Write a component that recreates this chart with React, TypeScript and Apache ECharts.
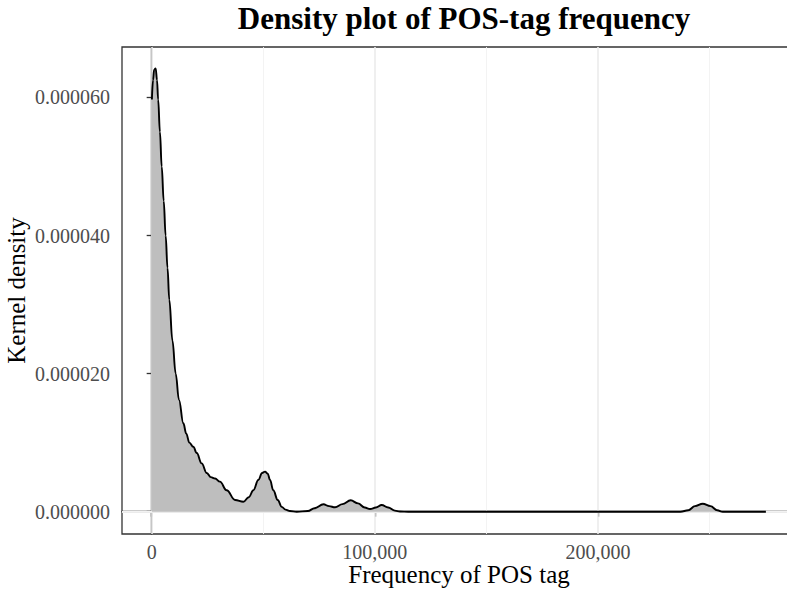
import React, { useEffect, useRef } from "react";
import * as echarts from "echarts";

const TITLE = "Density plot of POS-tag frequency";
const X_NAME = "Frequency of POS tag";
const Y_NAME = "Kernel density";

const xTickValues = [0, 100000, 200000];
const xMinorValues = [50000, 150000, 250000];
const yTickValues = [0, 0.00002, 0.00004, 0.00006];
const yMinorValues = [0.00001, 0.00003, 0.00005];

const frequency = [
  100, 600, 1100, 1800, 2400, 2900, 3700, 4500, 5400, 6260, 7100, 7900, 9300,
  10760, 12240, 14200, 15500, 16900, 18650, 20200, 22400, 24700, 26500, 28400,
  30600, 33600, 37400, 41100, 43500, 45600, 47800, 49500, 50800, 52000, 53050,
  54500, 56500, 58300, 60000, 62000, 65000, 70000, 73000, 77000, 79500, 82200,
  85500, 89200, 92500, 95500, 97900, 100500, 103100, 106000, 109000, 111300,
  115000, 237000, 240500, 243500, 247000, 250500, 253500, 256000, 275300,
];

const density = [
  59.7e-6, 62.5e-6, 64.0e-6, 64.2e-6, 62.5e-6, 59.7e-6, 55.0e-6, 50.0e-6,
  45.0e-6, 40.0e-6, 35.3e-6, 30.7e-6, 24.8e-6, 20.0e-6, 16.2e-6, 12.8e-6,
  11.3e-6, 10.0e-6, 9.4e-6, 8.5e-6, 7.0e-6, 5.6e-6, 5.0e-6, 4.8e-6, 4.35e-6,
  3.1e-6, 1.7e-6, 1.45e-6, 2.1e-6, 3.1e-6, 4.6e-6, 5.6e-6, 5.8e-6, 5.5e-6,
  4.6e-6, 3.1e-6, 1.7e-6, 0.7e-6, 0.3e-6, 0.1e-6, 0, 0.1e-6, 0.5e-6, 1.07e-6,
  0.8e-6, 0.64e-6, 1.1e-6, 1.65e-6, 1.2e-6, 0.6e-6, 0.39e-6, 0.6e-6, 0.97e-6,
  0.6e-6, 0.15e-6, 0.02e-6, 0, 0, 0.2e-6, 0.8e-6, 1.16e-6, 0.8e-6, 0.2e-6, 0,
  0,
];

const FONT = "'Liberation Serif', 'Times New Roman', serif";

export default function App() {
  const ref = useRef<HTMLDivElement>(null);

  useEffect(() => {
    if (!ref.current) return;
    const chart = echarts.init(ref.current, null, { renderer: "svg" });
    const points = frequency.map((f, i) => [f, density[i]]);

    const major = { color: "#EBEBEB", width: 1.6, type: "solid" };
    const minor = { color: "#F2F2F2", width: 0.9, type: "solid" };
    const gridMarks = [
      ...xTickValues.map((v) => ({ xAxis: v, lineStyle: major })),
      ...xMinorValues.map((v) => ({ xAxis: v, lineStyle: minor })),
      ...yTickValues.map((v) => ({ yAxis: v, lineStyle: major })),
      ...yMinorValues.map((v) => ({ yAxis: v, lineStyle: minor })),
    ];

    chart.setOption({
      animation: false,
      backgroundColor: "#ffffff",
      title: {
        text: TITLE,
        left: 459,
        top: -2,
        textAlign: "center",
        textStyle: {
          fontFamily: FONT,
          fontWeight: "bold",
          fontSize: 31,
          color: "#000000",
        },
      },
      grid: {
        left: 122,
        top: 47,
        right: -9,
        bottom: 60,
        containLabel: false,
        outerBoundsMode: "none",
        show: true,
        borderColor: "#333333",
        borderWidth: 1.3,
        backgroundColor: "transparent",
      },
      xAxis: {
        type: "value",
        min: -13300,
        max: 288800,
        name: X_NAME,
        nameLocation: "middle",
        nameGap: 28,
        nameMoveOverlap: false,
        nameTextStyle: { fontFamily: FONT, fontSize: 25, color: "#000000" },
        axisLine: { show: true, lineStyle: { color: "#333333", width: 1.3 } },
        axisTick: {
          show: true,
          customValues: xTickValues,
          length: 5,
          lineStyle: { color: "#333333", width: 1.3 },
        },
        axisLabel: {
          customValues: xTickValues,
          margin: 8,
          fontFamily: FONT,
          fontSize: 20,
          color: "#4D4D4D",
          formatter: (v: number) => v.toLocaleString("en-US"),
        },
        splitLine: { show: false },
      },
      yAxis: {
        type: "value",
        min: -3.23e-6,
        max: 6.73e-5,
        name: Y_NAME,
        nameLocation: "middle",
        nameGap: 93,
        nameMoveOverlap: false,
        nameRotate: 90,
        nameTextStyle: { fontFamily: FONT, fontSize: 25, color: "#000000" },
        axisLine: { show: true, lineStyle: { color: "#333333", width: 1.3 } },
        axisTick: {
          show: true,
          customValues: yTickValues,
          length: 5,
          lineStyle: { color: "#333333", width: 1.3 },
        },
        axisLabel: {
          customValues: yTickValues,
          margin: 12,
          fontFamily: FONT,
          fontSize: 20,
          color: "#4D4D4D",
          formatter: (v: number) => v.toFixed(6),
        },
        splitLine: { show: false },
      },
      series: [
        {
          type: "line",
          z: 1,
          data: [[0, 0]],
          symbol: "none",
          lineStyle: { width: 0, opacity: 0 },
          silent: true,
          markLine: {
            z: 1,
            silent: true,
            symbol: ["none", "none"],
            label: { show: false },
            animation: false,
            data: gridMarks,
          },
        },
        {
          type: "line",
          z: 3,
          data: points,
          symbol: "none",
          smooth: 0.4,
          smoothMonotone: "x",
          lineStyle: { color: "#000000", width: 1.9 },
          areaStyle: { color: "#BEBEBE", opacity: 1 },
          silent: true,
        },
      ],
    });

    return () => chart.dispose();
  }, []);

  return (
    <div
      ref={ref}
      style={{ position: "absolute", left: 0, top: 0, width: 787, height: 594 }}
    />
  );
}
